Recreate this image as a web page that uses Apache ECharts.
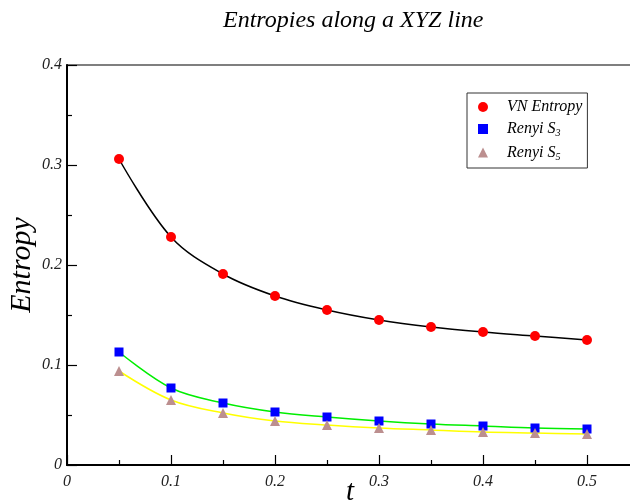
<!DOCTYPE html>
<html><head><meta charset="utf-8">
<script src="https://cdn.jsdelivr.net/npm/echarts@6/dist/echarts.min.js"></script>
<style>html,body{margin:0;padding:0;background:#fff}#c{width:630px;height:503px}</style>
</head><body><div id="c"></div>
<script>
var tValues = [0.05, 0.1, 0.15, 0.2, 0.25, 0.3, 0.35, 0.4, 0.45, 0.5];
var vnValues = [0.306, 0.228, 0.191, 0.169, 0.155, 0.145, 0.138, 0.133, 0.129, 0.125];
var s3Values = [0.113, 0.077, 0.062, 0.053, 0.048, 0.044, 0.041, 0.039, 0.037, 0.036];
var s5Values = [0.094, 0.065, 0.052, 0.044, 0.040, 0.037, 0.035, 0.033, 0.032, 0.031];
var yTicks = [0, 0.1, 0.2, 0.3, 0.4];
var xTicks = [0, 0.1, 0.2, 0.3, 0.4, 0.5];

function pairs(ys){ return tValues.map(function(t,i){ return [t, ys[i]]; }); }
var serif = 'Liberation Serif';
var chart = echarts.init(document.getElementById('c'), null, {renderer:'canvas'});
var axisLabel = {fontFamily: serif, fontStyle:'italic', fontSize:16, color:'#222'};
chart.setOption({
  animation:false,
  title:{text:'Entropies along a XYZ line', left:218, top:4,
    textStyle:{fontFamily:serif, fontStyle:'italic', fontWeight:'normal', fontSize:24, color:'#000'}},
  grid:{left:67, top:65, width:624, height:400, show:true, borderColor:'#000', borderWidth:1.2, backgroundColor:'transparent', outerBoundsMode:'none', containLabel:false},
  xAxis:{type:'value', min:0, max:0.6, interval:0.1,
    axisLine:{lineStyle:{color:'#000', width:2}},
    axisTick:{inside:true, length:10, lineStyle:{color:'#000', width:1.2}},
    minorTick:{show:true, splitNumber:2, length:5, lineStyle:{color:'#000', width:1.2}},
    splitLine:{show:false},
    axisLabel:Object.assign({margin:9, formatter:function(v){ var r=Math.round(v*10)/10; return xTicks.indexOf(r)>=0 ? String(r) : ''; }}, axisLabel)},
  yAxis:{type:'value', min:0, max:0.4, interval:0.1,
    name:'Entropy', nameLocation:'middle', nameGap:30, nameRotate:90, nameMoveOverlap:false,
    nameTextStyle:{fontFamily:serif, fontStyle:'italic', fontSize:30, color:'#000'},
    axisLine:{lineStyle:{color:'#000', width:2}},
    axisTick:{inside:true, length:10, lineStyle:{color:'#000', width:1.2}},
    minorTick:{show:true, splitNumber:2, length:5, lineStyle:{color:'#000', width:1.2}},
    splitLine:{show:false},
    axisLabel:Object.assign({margin:5, formatter:function(v){ return String(Math.round(v*10)/10); }}, axisLabel)},
  legend:{left:467, top:93, orient:'vertical', itemWidth:10, itemHeight:10, itemGap:6,
    padding:[6,5,6,11], backgroundColor:'#fff', borderColor:'#333', borderWidth:1,
    data:[{name:'VN Entropy', icon:'circle'},{name:'Renyi S3', icon:'rect'},{name:'Renyi S5', icon:'triangle'}],
    formatter:function(n){
      if(n==='Renyi S3') return '{a|Renyi S}{s|3}';
      if(n==='Renyi S5') return '{a|Renyi S}{s|5}';
      return '{a|'+n+'}';
    },
    textStyle:{rich:{
      a:{fontFamily:serif, fontStyle:'italic', fontSize:16, color:'#000', padding:[0,0,0,14]},
      s:{fontFamily:serif, fontStyle:'italic', fontSize:10, color:'#000', verticalAlign:'bottom', padding:[9,0,0,0]}
    }}},
  graphic:[{type:'text', left:346, top:478, style:{text:'t', fontFamily:serif, fontStyle:'italic', fontSize:29, fill:'#000'}}],
  series:[
    {type:'line', data:pairs(vnValues), smooth:0.35, showSymbol:false, lineStyle:{color:'#000', width:1.5}, silent:true, z:2},
    {type:'line', data:pairs(s3Values), smooth:0.35, showSymbol:false, lineStyle:{color:'#00ee00', width:1.5}, silent:true, z:2},
    {type:'line', data:pairs(s5Values), smooth:0.35, showSymbol:false, lineStyle:{color:'#ffff00', width:1.5}, silent:true, z:2},
    {name:'VN Entropy', type:'scatter', data:pairs(vnValues), symbol:'circle', symbolSize:10, itemStyle:{color:'#ff0000', opacity:1}, z:3},
    {name:'Renyi S3', type:'scatter', data:pairs(s3Values), symbol:'rect', symbolSize:9, itemStyle:{color:'#0000ff', opacity:1}, z:3},
    {name:'Renyi S5', type:'scatter', data:pairs(s5Values), symbol:'triangle', symbolSize:10, itemStyle:{color:'#bc8f8f', opacity:1}, z:3}
  ]
});
</script></body></html>
